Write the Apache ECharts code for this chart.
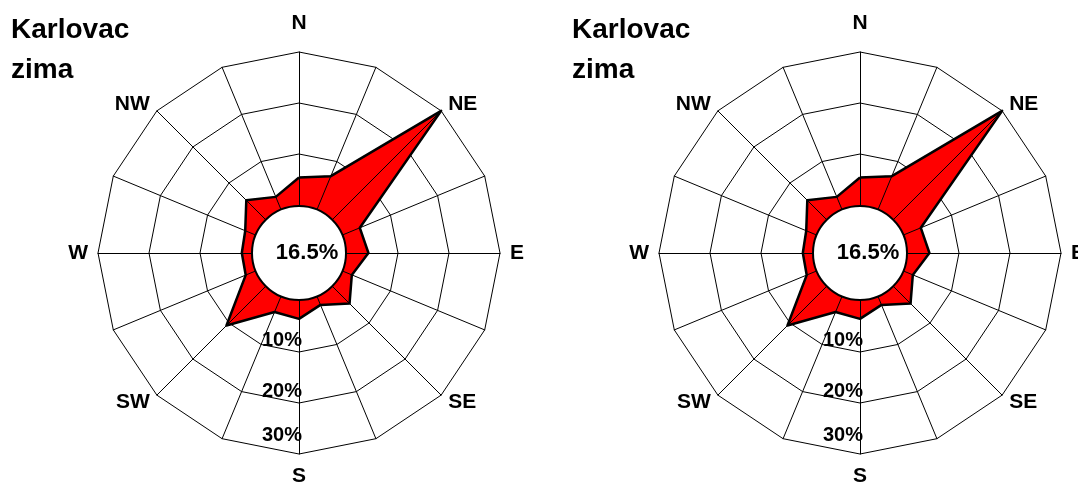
<!DOCTYPE html>
<html>
<head>
<meta charset="utf-8">
<script src="https://cdn.jsdelivr.net/npm/echarts@6/dist/echarts.min.js"></script>
<style>html,body{margin:0;padding:0;background:#fff}#c{width:1078px;height:486px}</style>
</head>
<body>
<div id="c"></div>
<script>
// ---- data ----
const directions = ['N','NNE','NE','ENE','E','ESE','SE','SSE','S','SSW','SW','WSW','W','WNW','NW','NNW'];
const directionLabels = ['N','','NE','','E','','SE','','S','','SW','','W','','NW',''];
const frequency = [5.4, 6.9, 30, 3.5, 4.2, 1.8, 4.6, 1.6, 3.5, 3.1, 10.7, 1.9, 1.8, 2.0, 5.2, 2.5];
const calm = 16.5;
const radialMax = 30;
const radialSplits = 3;
const titleLines = ['Karlovac', 'zima'];

// ---- layout ----
const FONT = '"Liberation Sans", Arial, sans-serif';
const panels = [
  { cx: 299, cy: 253, titleLeft: 11 },
  { cx: 860, cy: 253, titleLeft: 572 }
];
const R0 = 48, R1 = 201;

// radar places indicators counter-clockwise from startAngle; reorder
const ccwOrder = directions.map((d, j) => (16 - j) % 16);

function indicators(withRingLabels) {
  return ccwOrder.map(i => {
    const ind = { name: directionLabels[i], min: 0, max: radialMax };
    if (withRingLabels && directions[i] === 'S') ind.axisLabel = { show: true };
    return ind;
  });
}

const radars = [], series = [], titles = [];
panels.forEach((p, k) => {
  radars.push({
    center: [p.cx, p.cy], radius: [R0, R1], startAngle: 90, shape: 'polygon',
    splitNumber: radialSplits, indicator: indicators(false), z: 1,
    nameGap: 10,
    axisName: {
      show: true, color: '#000', fontSize: 21, fontWeight: 'bold', fontFamily: FONT,
      formatter: n => n === 'N' ? '{n|N}' : (n === 'S' ? '{s|S}' : n),
      rich: {
        n: { color: '#000', fontSize: 21, fontWeight: 'bold', fontFamily: FONT, padding: [0, 0, 8, 0] },
        s: { color: '#000', fontSize: 21, fontWeight: 'bold', fontFamily: FONT, padding: [2, 0, 0, 0] }
      }
    },
    splitLine: { show: true, lineStyle: { color: '#000', width: 1 } },
    splitArea: { show: false },
    axisLine: { show: false },
    axisTick: { show: false },
    axisLabel: { show: false }
  });
  radars.push({
    center: [p.cx, p.cy], radius: [R0, R1], startAngle: 90, shape: 'polygon',
    splitNumber: radialSplits, indicator: indicators(true), z: 3,
    axisName: { show: false },
    splitLine: { show: false },
    splitArea: { show: false },
    axisLine: { show: true, lineStyle: { color: '#000', width: 1 } },
    axisTick: { show: false },
    axisLabel: {
      show: false, margin: 3, align: 'right', verticalAlign: 'bottom',
      color: '#000', fontSize: 20, fontWeight: 'bold', fontFamily: FONT,
      formatter: v => v === 0 ? '' : (v === radialMax ? '{hi|' + v + '%}' : '{lo|' + v + '%}'),
      rich: {
        lo: { color: '#000', fontSize: 20, fontWeight: 'bold', fontFamily: FONT, padding: [0, 0, 2, 0] },
        hi: { color: '#000', fontSize: 20, fontWeight: 'bold', fontFamily: FONT, padding: [0, 0, 9, 0] }
      }
    }
  });
  const values = ccwOrder.map(i => frequency[i]);
  // red fill
  series.push({
    type: 'radar', radarIndex: k * 2, symbol: 'none', silent: true, z: 2,
    lineStyle: { color: '#000', width: 1 },
    areaStyle: { color: '#ff0000', opacity: 1 },
    itemStyle: { color: '#000' },
    data: [{ value: values }]
  });
  // thick black outline
  series.push({
    type: 'radar', radarIndex: k * 2, symbol: 'none', silent: true, z: 2.5,
    lineStyle: { color: '#000', width: 2.5 },
    itemStyle: { color: '#000' },
    data: [{ value: values }]
  });
  series.push({
    type: 'pie', center: [p.cx, p.cy], radius: [0, R0 - 1], silent: true, z: 4,
    startAngle: 90,
    itemStyle: { color: '#fff', borderColor: '#000', borderWidth: 2 },
    label: {
      show: true, position: 'center', formatter: '{c}%', color: '#000',
      fontSize: 22, fontWeight: 'bold', fontFamily: FONT, padding: [0, 0, 0, 16]
    },
    labelLine: { show: false },
    emphasis: { disabled: true },
    data: [{ value: calm, name: 'calm' }]
  });
  titles.push({
    text: titleLines.join('\n'), left: p.titleLeft, top: 10, padding: 0,
    textStyle: { color: '#000', fontSize: 28, fontWeight: 'bold', fontFamily: FONT, lineHeight: 40 }
  });
});

const chart = echarts.init(document.getElementById('c'), null, { renderer: 'canvas' });
chart.setOption({
  backgroundColor: '#fff',
  animation: false,
  title: titles,
  radar: radars,
  series: series
});
</script>
</body>
</html>
